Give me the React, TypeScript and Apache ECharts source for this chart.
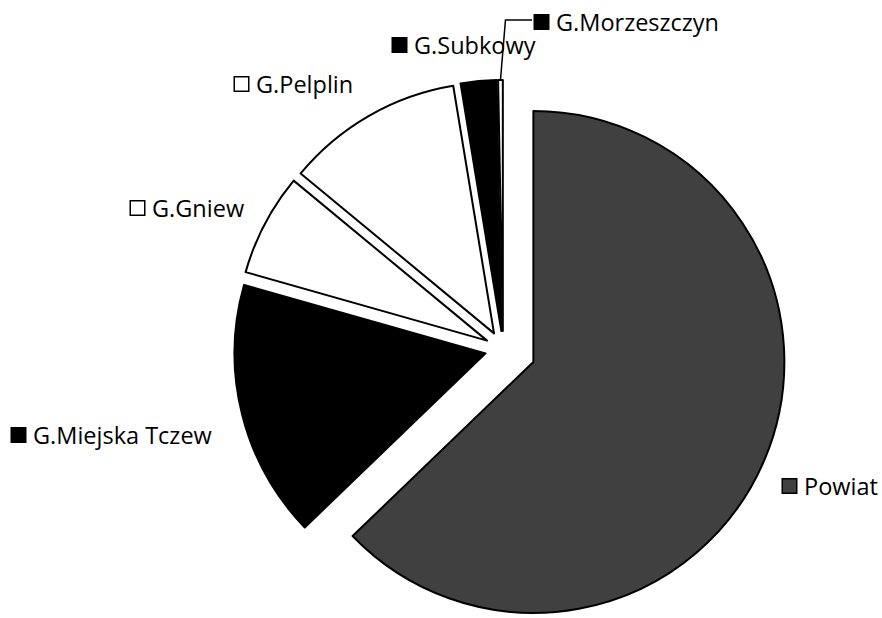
import React, { useEffect, useRef } from 'react';
import * as echarts from 'echarts';

// ---- data ----
const categories = ['Powiat', 'G.Miejska Tczew', 'G.Gniew', 'G.Pelplin', 'G.Subkowy', 'G.Morzeszczyn'];
const shares = [62.8, 16.6, 6.6, 11.4, 2.3, 0.3];
const fillColors = ['#404040', '#000000', '#ffffff', '#ffffff', '#000000', '#ffffff'];
const markerColors = ['#404040', '#000000', '#ffffff', '#ffffff', '#000000', '#000000'];

// ---- layout ----
const W = 882;
const H = 618;
const CENTER = [503, 349];
const RADIUS = 251;
const EXPLODE = [33, 18, 18, 18, 18, 18];
const LABEL_POS = [
  [783, 486],
  [12, 435],
  [131, 208],
  [235, 84],
  [393, 45],
  [535, 22],
];

function buildOption() {
  const total = shares.reduce((a, b) => a + b, 0);
  let acc = 0;
  const mids = shares.map((v) => {
    const m = ((acc + v / 2) / total) * Math.PI * 2;
    acc += v;
    return m;
  });

  const rich: any = {
    t: { fontFamily: 'Open Sans', fontSize: 23.5, color: '#000', padding: [0, 0, 0, 8] },
  };
  markerColors.forEach((c, i) => {
    rich['m' + i] = {
      width: 13,
      height: 13,
      backgroundColor: c,
      borderColor: '#000',
      borderWidth: 1.5,
    };
  });

  const series = categories.map((_, i) => {
    const off = EXPLODE[i];
    const cx = CENTER[0] + off * Math.sin(mids[i]);
    const cy = CENTER[1] - off * Math.cos(mids[i]);
    return {
      type: 'pie',
      silent: true,
      center: [cx, cy],
      radius: RADIUS,
      startAngle: 90,
      clockwise: true,
      avoidLabelOverlap: false,
      minAngle: 0,
      label: {
        position: 'outside',
        formatter: (p: any) => `{m${p.dataIndex}|}{t|${p.name}}`,
        rich,
      },
      labelLine: {
        length: 60,
        length2: 15,
        lineStyle: { color: '#000', width: 1.5 },
      },
      labelLayout: (p: any) => {
        if (p.dataIndex !== i) return {};
        const [x, y] = LABEL_POS[i];
        const out: any = { x, y, align: 'left', verticalAlign: 'middle' };
        if (i === 5 && p.labelLinePoints && p.labelLinePoints[0]) {
          const p0 = p.labelLinePoints[0];
          out.labelLinePoints = [p0, [p0[0] + 5, y - 2], [x - 3, y - 2]];
        }
        return out;
      },
      data: categories.map((name, j) => ({
        name,
        value: shares[j],
        itemStyle:
          j === i
            ? { color: fillColors[j], borderColor: '#000', borderWidth: 2 }
            : { color: 'rgba(0,0,0,0)', borderWidth: 0 },
        label: { show: j === i },
        labelLine: { show: j === i && j === 5 },
      })),
    };
  });

  return {
    animation: false,
    backgroundColor: '#ffffff',
    series,
  };
}

export default function App() {
  const ref = useRef<HTMLDivElement>(null);
  useEffect(() => {
    document.body.style.margin = '0';
    const chart = echarts.init(ref.current!, undefined, { renderer: 'svg' });
    chart.setOption(buildOption() as any);
    return () => chart.dispose();
  }, []);
  return <div ref={ref} style={{ width: W, height: H }} />;
}
